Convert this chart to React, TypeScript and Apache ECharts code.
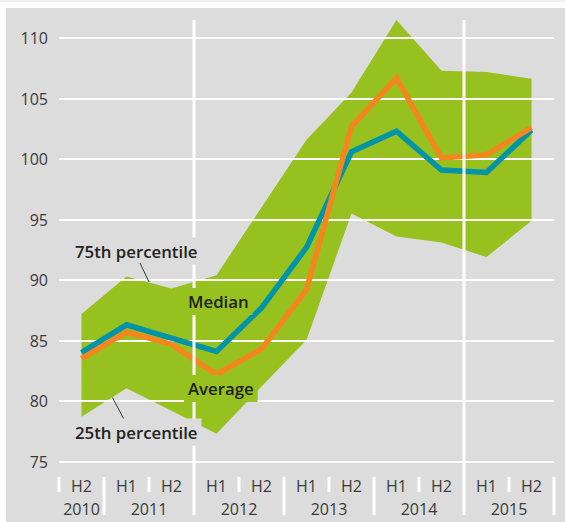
import React, { useEffect, useRef } from "react";
import * as echarts from "echarts";

// ---- data ----
const halves = ["H2", "H1", "H2", "H1", "H2", "H1", "H2", "H1", "H2", "H1", "H2"];
const yearOfHalf = ["2010", "2011", "2011", "2012", "2012", "2013", "2013", "2014", "2014", "2015", "2015"];
const median = [84.0, 86.3, 85.2, 84.1, 87.7, 92.7, 100.6, 102.3, 99.1, 98.9, 102.4];
const average = [83.5, 85.7, 84.7, 82.2, 84.3, 89.2, 102.7, 106.7, 100.1, 100.35, 102.6];
const p75 = [87.2, 90.3, 89.3, 90.4, 96.0, 101.6, 105.5, 111.5, 107.3, 107.2, 106.65];
const p25 = [78.7, 81.05, 79.2, 77.3, 81.2, 85.05, 95.5, 93.6, 93.1, 91.9, 94.9];
const yMin = 75;
const yMax = 111.5;
const yStep = 5;
const highlightedYears = ["2012", "2015"];
const labelTexts = { p75: "75th percentile", median: "Median", average: "Average", p25: "25th percentile" };

const GREEN = "#96c11f";
const BLUE = "#0094a9";
const ORANGE = "#f5861f";
const GRAY = "#dcdcdc";
const FONT = "'Open Sans', 'Noto Sans', sans-serif";

export default function App() {
  const ref = useRef<HTMLDivElement>(null);
  useEffect(() => {
    const chart = echarts.init(ref.current!, undefined, { renderer: "svg" });
    chart.setOption({
      animation: false,
      grid: { left: 53, right: 11, top: 12, bottom: 60.5 },
      xAxis: {
        type: "category",
        data: halves,
        boundaryGap: true,
        axisLine: { show: false },
        axisTick: { show: false },
        splitLine: { show: false },
        axisLabel: { color: "#3a3a3a", fontSize: 16, fontFamily: FONT, margin: 16, interval: 0 },
      },
      yAxis: {
        type: "value",
        min: yMin,
        max: yMax,
        interval: yStep,
        z: 1,
        axisLine: { show: false },
        axisTick: { show: false },
        axisLabel: {
          color: "#3a3a3a",
          fontSize: 16,
          fontFamily: FONT,
          margin: 11,
          showMaxLabel: false,
          formatter: (v: number) => (v % yStep === 0 ? String(v) : ""),
        },
        splitLine: { show: true, showMaxLine: false, lineStyle: { color: "#ffffff", width: 2 } },
      },
      series: [
        {
          name: "p25",
          type: "line",
          data: p25,
          stack: "band",
          symbol: "none",
          lineStyle: { width: 0, opacity: 0 },
          z: -1,
          silent: true,
        },
        {
          name: "band",
          type: "line",
          data: p75.map((v, i) => +(v - p25[i]).toFixed(3)),
          stack: "band",
          symbol: "none",
          lineStyle: { width: 0, opacity: 0 },
          areaStyle: { color: GREEN, opacity: 1 },
          z: -1,
          silent: true,
        },
        {
          name: "Median",
          type: "line",
          data: median,
          symbol: "none",
          lineStyle: { color: BLUE, width: 5.5, join: "miter" },
          z: 3,
        },
        {
          name: "Average",
          type: "line",
          data: average,
          symbol: "none",
          lineStyle: { color: ORANGE, width: 5.5, join: "miter" },
          z: 4,
        },
      ],
    });

    const px = (i: number) => chart.convertToPixel({ xAxisIndex: 0 }, i) as number;
    const py = (v: number) => chart.convertToPixel({ yAxisIndex: 0 }, v) as number;
    const step = px(1) - px(0);
    const gridTop = py(yMax);
    const gridBottom = py(yMin);

    const graphics: any[] = [];
    const n = halves.length;
    for (let b = 0; b <= n; b++) {
      const x = b < n ? px(b) - step / 2 : px(n - 1) + step / 2;
      const yearChange = b === n || (b > 0 && yearOfHalf[b] !== yearOfHalf[b - 1]);
      const highlighted = b > 0 && b < n && yearChange && highlightedYears.includes(yearOfHalf[b]);
      const y1 = highlighted ? gridTop : gridBottom + 15.5;
      const y2 = yearChange ? gridBottom + 53.5 : gridBottom + 30.5;
      graphics.push({
        type: "line",
        shape: { x1: x, y1, x2: x, y2 },
        style: { stroke: "#ffffff", lineWidth: 3 },
        z: 5,
        silent: true,
      });
    }
    const years = Array.from(new Set(yearOfHalf));
    years.forEach((yr) => {
      const first = yearOfHalf.indexOf(yr);
      const last = yearOfHalf.lastIndexOf(yr);
      graphics.push({
        type: "text",
        x: (px(first) + px(last)) / 2,
        y: gridBottom + 47,
        z: 6,
        style: {
          text: yr,
          fill: "#3a3a3a",
          font: `16px ${FONT}`,
          align: "center",
          verticalAlign: "middle",
        },
      });
    });

    const label = (text: string, x: number, y: number, bg: string) => ({
      type: "text",
      x,
      y,
      z: 7,
      style: {
        text,
        fill: "#222222",
        font: `600 16.8px ${FONT}`,
        align: "left",
        verticalAlign: "middle",
        backgroundColor: bg,
        padding: [5, 4, 5, 4],
      },
    });
    graphics.push(label(labelTexts.p75, 65, 243, GRAY));
    graphics.push(label(labelTexts.median, 178, 293.5, GREEN));
    graphics.push(label(labelTexts.average, 178, 380.5, GREEN));
    graphics.push(label(labelTexts.p25, 65, 424, GRAY));
    graphics.push({
      type: "line",
      shape: { x1: 134, y1: 255, x2: 143, y2: 274 },
      style: { stroke: "#333333", lineWidth: 1 },
      z: 8,
    });
    graphics.push({
      type: "line",
      shape: { x1: 106.5, y1: 389.5, x2: 117.5, y2: 410.5 },
      style: { stroke: "#333333", lineWidth: 1 },
      z: 8,
    });

    chart.setOption({ graphic: graphics });
    return () => chart.dispose();
  }, []);

  return (
    <div style={{ position: "absolute", left: 0, top: 0, width: 565, height: 522, background: "#ffffff", overflow: "hidden" }}>
      <div style={{ position: "absolute", left: 0, top: 0, width: 565, height: 2, background: "#efefef" }} />
      <div
        ref={ref}
        style={{ position: "absolute", left: 6, top: 8, width: 559, height: 514, background: GRAY }}
      />
    </div>
  );
}
